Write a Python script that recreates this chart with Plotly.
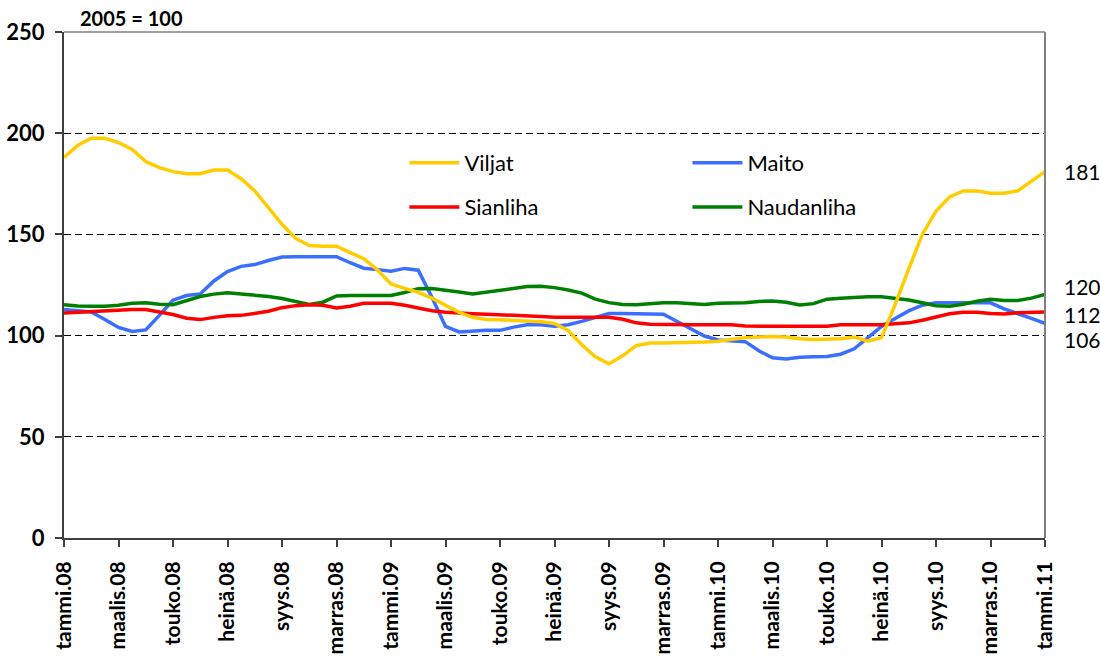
import plotly.graph_objects as go

# Half-monthly observations, tammi.08 .. tammi.11 (index 2005 = 100)
viljat = [188, 194, 197.5, 197.5, 195.4, 192, 186, 183, 181, 180, 180, 181.8, 181.8,
          177.5, 171.5, 163, 155, 148, 144.5, 144.2, 144.2, 141, 138, 132.5, 125.5,
          123.3, 121.4, 118.5, 115, 111.5, 109, 108, 107.8, 107.4, 107.1, 106.9, 106,
          102.5, 95.5, 89.5, 86.1, 90, 95, 96.3, 96.4, 96.4, 96.5, 96.8, 97.2,
          98.2, 99, 99.3, 99.6, 99.3, 98.4, 98.1, 98.2, 98.5, 99.3, 97.2, 99,
          115.3, 133, 150, 161.5, 168.5, 171.5, 171.5, 170.3, 170.3, 171.5, 176.3, 181]
maito = [112.9, 112.5, 111.7, 108, 104, 102, 102.8, 110, 117.5, 119.8, 120.6, 127, 131.6,
         134.2, 135.1, 137.1, 138.8, 139, 139, 139, 139, 136, 133.3, 132.6, 131.8,
         133.2, 132.3, 119, 104.5, 101.8, 102.3, 102.6, 102.6, 104.2, 105.3, 105.4, 104.6,
         105.4, 107, 109, 110.9, 110.9, 110.9, 110.9, 110.6, 107, 103.5, 99.8, 97.8,
         97.4, 97, 92.5, 89, 88.5, 89.3, 89.5, 89.7, 90.8, 93.5, 99, 104.5,
         108.5, 112.2, 115, 116.2, 116.2, 116.2, 116.2, 116.2, 113.2, 111, 108.5, 106]
sianliha = [111.2, 111.6, 112, 112.5, 112.9, 112.9, 112.9, 111.7, 110.4, 108.6, 107.9, 109, 109.8,
            110, 111, 112, 113.8, 114.8, 115.3, 115, 113.7, 114.5, 116, 116.1, 116,
            115, 113.5, 112.3, 111.5, 111, 110.8, 110.6, 110.4, 110.1, 109.8, 109.4, 109.1,
            109.1, 109.1, 109.1, 109.1, 108.1, 106.3, 105.6, 105.4, 105.4, 105.4, 105.4, 105.4,
            105.4, 104.7, 104.6, 104.6, 104.6, 104.6, 104.6, 104.6, 105.4, 105.4, 105.4, 105.4,
            105.9, 106.3, 107.6, 109, 110.8, 111.5, 111.5, 110.9, 110.7, 111.3, 111.6, 111.6]
naudanliha = [115.3, 114.6, 114.5, 114.5, 115, 116, 116.2, 115.5, 115.3, 117.2, 119.3, 120.5, 121.2,
              120.6, 120, 119.3, 118.3, 117, 115.4, 116.5, 119.6, 119.8, 119.8, 119.8, 119.8,
              121.3, 123.2, 123.3, 122.6, 121.5, 120.6, 121.4, 122.3, 123.2, 124.2, 124.4, 123.7,
              122.5, 121, 118, 116.3, 115.4, 115.3, 115.7, 116.2, 116.2, 115.6, 115.4, 116,
              116.2, 116.2, 116.9, 117.1, 116.5, 115.1, 115.8, 118, 118.5, 119, 119.2, 119.2,
              118.5, 117.6, 116.2, 114.8, 114.5, 115.5, 117, 118, 117.4, 117.3, 118.5, 120.4]

tick_labels = ["tammi.08", "maalis.08", "touko.08", "heinä.08", "syys.08", "marras.08",
               "tammi.09", "maalis.09", "touko.09", "heinä.09", "syys.09", "marras.09",
               "tammi.10", "maalis.10", "touko.10", "heinä.10", "syys.10", "marras.10",
               "tammi.11"]

# x in months since tammi.08 (two observations per month)
x = [i / 2 for i in range(len(viljat))]
tick_vals = [2 * k for k in range(len(tick_labels))]

series = [
    ("Maito", maito, "#3A6EFF", "legend", 2),
    ("Naudanliha", naudanliha, "#008000", "legend2", 2),
    ("Sianliha", sianliha, "#FF0000", "legend2", 1),
    ("Viljat", viljat, "#FFCC00", "legend", 1),
]

fig = go.Figure()
for name, vals, color, leg, rank in series:
    fig.add_trace(go.Scatter(x=x, y=vals, mode="lines", name=name,
                             line=dict(color=color, width=3.5),
                             legend=leg, legendrank=rank))

FONT = "Lato, 'Open Sans', sans-serif"

# end-of-series value labels (label vertical positions adjusted to avoid overlap)
end_labels = [(viljat, 181), (naudanliha, 124.3), (sianliha, 110.4), (maito, 98.0)]
for vals, ypos in end_labels:
    fig.add_annotation(x=1.017, xref="paper", y=ypos, yref="y", text=f"{round(vals[-1])}",
                       showarrow=False, xanchor="left", yanchor="middle",
                       font=dict(family=FONT, size=21, color="black"))

fig.add_annotation(x=(78 - 64) / 981, xref="paper", y=1.028, yref="paper",
                   text="<b>2005 = 100</b>", showarrow=False, xanchor="left", yanchor="middle",
                   font=dict(family=FONT, size=20, color="black"))

# top and right frame lines
fig.add_shape(type="line", xref="paper", yref="paper", x0=0, x1=1, y0=1, y1=1,
              line=dict(color="#808080", width=1.5))
fig.add_shape(type="line", xref="paper", yref="paper", x0=1, x1=1, y0=0, y1=1,
              line=dict(color="#808080", width=2))

legend_common = dict(orientation="h", entrywidth=218, entrywidthmode="pixels",
                     xanchor="left", yanchor="middle", bgcolor="rgba(0,0,0,0)",
                     font=dict(family=FONT, size=22, color="black"), itemwidth=50,
                     traceorder="normal")

fig.update_layout(
    width=1100, height=657,
    margin=dict(l=64, r=55, t=32, b=119, autoexpand=False),
    paper_bgcolor="white", plot_bgcolor="white",
    showlegend=True,
    legend=dict(x=0.347, y=0.741, **legend_common),
    legend2=dict(x=0.347, y=0.654, **legend_common),
    xaxis=dict(range=[0, 36], tickmode="array", tickvals=tick_vals, ticktext=tick_labels,
               tickangle=-90, ticks="outside", ticklen=7, tickcolor="#404040", tickwidth=1.5,
               showline=True, linecolor="#404040", linewidth=2, showgrid=False, zeroline=False,
               automargin=False, ticklabelstandoff=6,
               tickfont=dict(family=FONT, size=21, color="black", weight="bold")),
    yaxis=dict(range=[0, 250], tickmode="linear", tick0=0, dtick=50,
               ticks="outside", ticklen=7, tickcolor="#404040", tickwidth=1.5,
               showline=True, linecolor="#404040", linewidth=2,
               showgrid=True, gridcolor="black", gridwidth=1, griddash="7px,4px",
               zeroline=False, ticklabelstandoff=6, automargin=False,
               tickfont=dict(family=FONT, size=22, color="black", weight="bold")),
)

fig.write_html("out.html", config={"displayModeBar": False},
               post_script="document.body.style.margin='0';document.body.style.overflow='hidden';")
